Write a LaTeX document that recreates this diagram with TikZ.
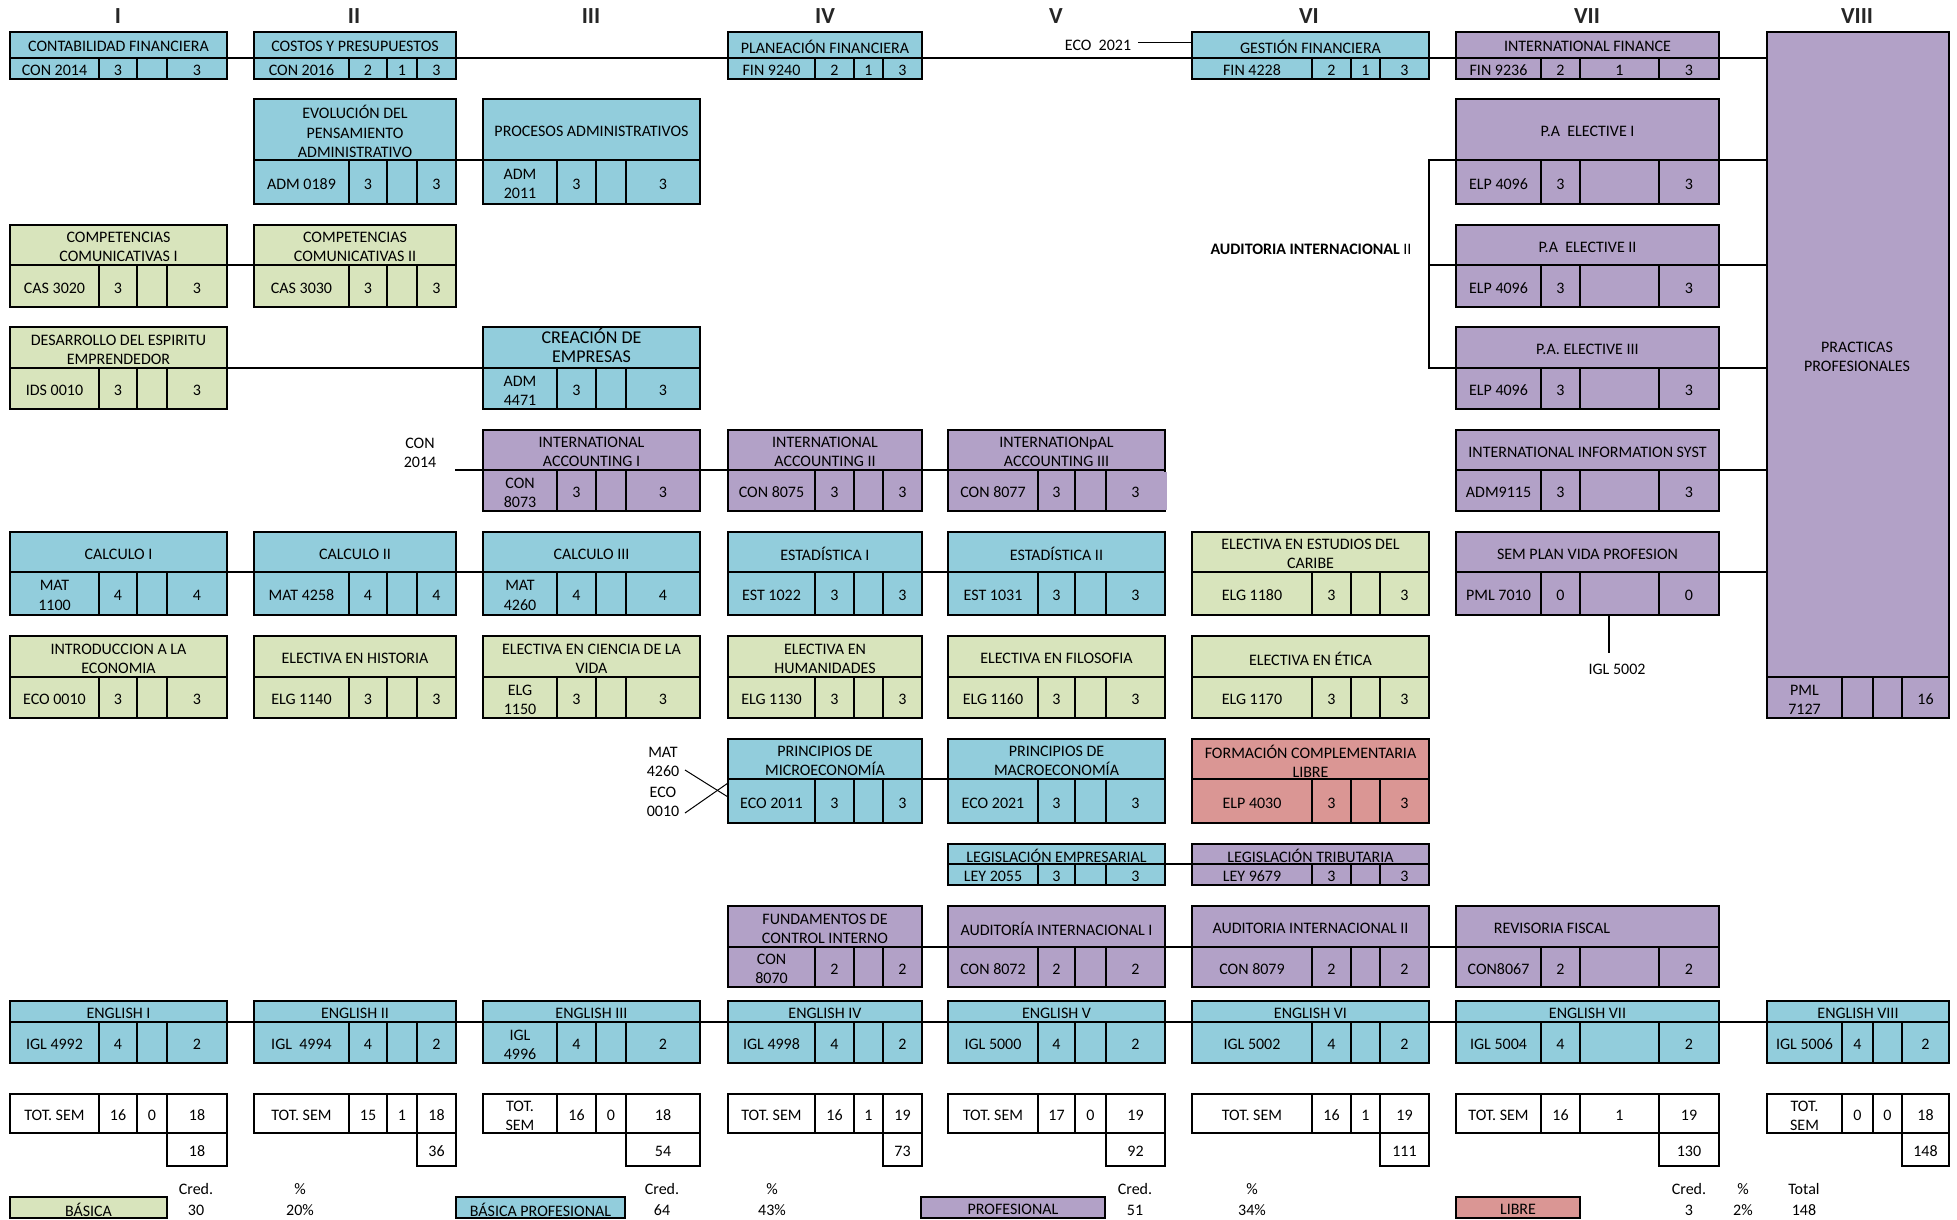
\documentclass[tikz,border=0pt]{standalone}
\usepackage{fontspec}
\setmainfont{Carlito}
\usetikzlibrary{calc}
\definecolor{cblue}{HTML}{92CDDC}
\definecolor{cgreen}{HTML}{D8E4BC}
\definecolor{cpurple}{HTML}{B2A1C7}
\definecolor{cred}{HTML}{DA9694}
\newcommand\fs{\fontsize{16}{19.2}\selectfont}
\newcommand\fsb{\fontsize{18}{19}\selectfont}
\newcommand\setcol[5]{\def\kxa{#1}\def\kxb{#2}\def\kca{#3}\def\kcb{#4}\def\kcc{#5}}
\newcommand\setrow[3]{\def\kya{#1}\def\kyb{#2}\def\kyc{#3}}
\newcommand\colA{\setcol{10}{227}{99}{137}{167}}
\newcommand\colB{\setcol{254}{456}{349}{387}{417}}
\newcommand\colC{\setcol{483}{700}{557}{596}{626}}
\newcommand\colD{\setcol{728}{922}{815}{854}{883}}
\newcommand\colE{\setcol{948}{1165}{1038}{1075}{1106}}
\newcommand\colF{\setcol{1192}{1429}{1312}{1351}{1380}}
\newcommand\colG{\setcol{1456}{1719}{1541}{1580}{1659}}
\newcommand\colH{\setcol{1767}{1949}{1842}{1873}{1902}}
\newcommand\rowA{\setrow{32}{57.7}{79}}
\newcommand\rowB{\setrow{99}{160}{204}}
\newcommand\rowC{\setrow{225}{265}{307}}
\newcommand\rowD{\setrow{327}{368}{409}}
\newcommand\rowE{\setrow{430}{470}{511}}
\newcommand\rowF{\setrow{532}{572}{615}}
\newcommand\rowG{\setrow{636}{677}{718}}
\newcommand\rowH{\setrow{739}{779}{823}}
\newcommand\rowI{\setrow{844}{864}{885}}
\newcommand\rowJ{\setrow{906}{947}{987}}
\newcommand\rowK{\setrow{1001}{1022}{1063}}
\tikzset{
  boxline/.style={draw=black, line width=2.6},
  inner/.style={draw=black, line width=2.1},
  conn/.style={draw=black, line width=2.4},
  thinln/.style={draw=black, line width=1},
  txt/.style={font=\fs, inner sep=0pt, align=center, text=black, yshift=-2pt},
  roman/.style={font=\fontsize{23}{26}\selectfont\bfseries, inner sep=0pt, text=black!85},
}
\newcommand\crs[9]{%
  #2#3%
  \draw[fill=#4, draw=none] (\kxa,\kya) rectangle (\kxb,\kyc);
  \draw[inner] (\kxa,\kyb) -- (\kxb,\kyb);
  \draw[inner] (\kca,\kyb) -- (\kca,\kyc) (\kcb,\kyb) -- (\kcb,\kyc) (\kcc,\kyb) -- (\kcc,\kyc);
  \draw[boxline] (\kxa,\kya) rectangle (\kxb,\kyc);
  \coordinate (#1-l) at (\kxa,\kyb);
  \coordinate (#1-r) at (\kxb,\kyb);
  \node[txt] (#1-t) at ({(\kxa+\kxb)/2},{(\kya+\kyb)/2}) {#5};
  \node[txt] (#1-c) at ({(\kxa+\kca)/2},{(\kyb+\kyc)/2}) {#6};
  \node[txt] (#1-a) at ({(\kca+\kcb)/2},{(\kyb+\kyc)/2}) {#7};
  \node[txt] (#1-b) at ({(\kcb+\kcc)/2},{(\kyb+\kyc)/2}) {#8};
  \node[txt] (#1-d) at ({(\kcc+\kxb)/2},{(\kyb+\kyc)/2}) {#9};
}
\newcommand\tot[7]{%
  #2%
  \draw[boxline, fill=white] (\kxa,1094) rectangle (\kxb,1133);
  \draw[boxline, fill=white] (\kcc,1133) rectangle (\kxb,1166);
  \draw[inner] (\kca,1094) -- (\kca,1133) (\kcb,1094) -- (\kcb,1133) (\kcc,1094) -- (\kcc,1133);
  \node[txt] (#1-c) at ({(\kxa+\kca)/2},1113.5) {#3};
  \node[txt] (#1-a) at ({(\kca+\kcb)/2},1113.5) {#4};
  \node[txt] (#1-b) at ({(\kcb+\kcc)/2},1113.5) {#5};
  \node[txt] (#1-d) at ({(\kcc+\kxb)/2},1113.5) {#6};
  \node[txt] (#1-s) at ({(\kcc+\kxb)/2},1149.5) {#7};
}
\newcommand\leg[5]{%
  \draw[boxline, fill=#4] (#2,1197) rectangle (#3,1218);
  \node[txt] (#1) at ({(#2+#3)/2},1207.5) {#5};
}
\begin{document}
\begin{tikzpicture}[x=1pt,y=-1pt]
\useasboundingbox[fill=white] (0,0) rectangle (1957,1219);
% semester numerals
\node[roman] (sI) at (118,16) {I};
\node[roman] (sII) at (354,16) {II};
\node[roman] (sIII) at (591,16) {III};
\node[roman] (sIV) at (825,16) {IV};
\node[roman] (sV) at (1056,16) {V};
\node[roman] (sVI) at (1309,16) {VI};
\node[roman] (sVII) at (1587,16) {VII};
\node[roman] (sVIII) at (1857,16) {VIII};
% practicas
\fill[cpurple] (1767,32) rectangle (1949,718);
\draw[inner] (1767,677) -- (1949,677) (1842,677) -- (1842,718) (1873,677) -- (1873,718) (1902,677) -- (1902,718);
\draw[boxline] (1767,32) rectangle (1949,718);
\coordinate (prac-nw) at (1767,32);
\node[txt] (prac-t) at (1857,355) {PRACTICAS\\PROFESIONALES};
\node[txt] (prac-c) at (1804.5,697.5) {PML\\7127};
\node[txt] (prac-d) at (1925.5,697.5) {16};
% courses
\crs{conta}{\colA}{\rowA}{cblue}{CONTABILIDAD FINANCIERA}{CON 2014}{3}{}{3}
\crs{costos}{\colB}{\rowA}{cblue}{COSTOS Y PRESUPUESTOS}{CON 2016}{2}{1}{3}
\crs{plan}{\colD}{\rowA}{cblue}{PLANEACIÓN FINANCIERA}{FIN 9240}{2}{1}{3}
\crs{gest}{\colF}{\rowA}{cblue}{GESTIÓN FINANCIERA}{FIN 4228}{2}{1}{3}
\crs{ifin}{\colG}{\rowA}{cpurple}{INTERNATIONAL FINANCE}{FIN 9236}{2}{1}{3}
\crs{evol}{\colB}{\rowB}{cblue}{EVOLUCIÓN DEL\\PENSAMIENTO\\ADMINISTRATIVO}{ADM 0189}{3}{}{3}
\crs{proc}{\colC}{\rowB}{cblue}{PROCESOS ADMINISTRATIVOS}{ADM\\2011}{3}{}{3}
\crs{pa1}{\colG}{\rowB}{cpurple}{P.A~~ELECTIVE I}{ELP 4096}{3}{}{3}
\crs{comp1}{\colA}{\rowC}{cgreen}{COMPETENCIAS\\COMUNICATIVAS I}{CAS 3020}{3}{}{3}
\crs{comp2}{\colB}{\rowC}{cgreen}{COMPETENCIAS\\COMUNICATIVAS II}{CAS 3030}{3}{}{3}
\crs{pa2}{\colG}{\rowC}{cpurple}{P.A~~ELECTIVE II}{ELP 4096}{3}{}{3}
\crs{desa}{\colA}{\rowD}{cgreen}{DESARROLLO DEL ESPIRITU\\EMPRENDEDOR}{IDS 0010}{3}{}{3}
\crs{crea}{\colC}{\rowD}{cblue}{}{ADM\\4471}{3}{}{3}
\node[txt, font=\fsb] (crea-tt) at (591.5,343.5) {CREACIÓN DE\\EMPRESAS};
\crs{pa3}{\colG}{\rowD}{cpurple}{P.A. ELECTIVE III}{ELP 4096}{3}{}{3}
\crs{ia1}{\colC}{\rowE}{cpurple}{INTERNATIONAL\\ACCOUNTING I}{CON\\8073}{3}{}{3}
\crs{ia2}{\colD}{\rowE}{cpurple}{INTERNATIONAL\\ACCOUNTING II}{CON 8075}{3}{}{3}
\crs{ia3}{\colE}{\rowE}{cpurple}{INTERNATIONpAL\\ACCOUNTING III}{CON 8077}{3}{}{3}
\draw[cpurple, line width=3] (1165,472) -- (1165,509.6);
\crs{info}{\colG}{\rowE}{cpurple}{INTERNATIONAL INFORMATION SYST}{ADM9115}{3}{}{3}
\crs{calc1}{\colA}{\rowF}{cblue}{CALCULO I}{MAT\\1100}{4}{}{4}
\crs{calc2}{\colB}{\rowF}{cblue}{CALCULO II}{MAT 4258}{4}{}{4}
\crs{calc3}{\colC}{\rowF}{cblue}{CALCULO III}{MAT\\4260}{4}{}{4}
\crs{est1}{\colD}{\rowF}{cblue}{ESTADÍSTICA I}{EST 1022}{3}{}{3}
\crs{est2}{\colE}{\rowF}{cblue}{ESTADÍSTICA II}{EST 1031}{3}{}{3}
\crs{cari}{\colF}{\rowF}{cgreen}{ELECTIVA EN ESTUDIOS DEL\\CARIBE}{ELG 1180}{3}{}{3}
\crs{sem}{\colG}{\rowF}{cpurple}{SEM PLAN VIDA PROFESION}{PML 7010}{0}{}{0}
\crs{intro}{\colA}{\rowG}{cgreen}{INTRODUCCION A LA\\ECONOMIA}{ECO 0010}{3}{}{3}
\crs{hist}{\colB}{\rowG}{cgreen}{ELECTIVA EN HISTORIA}{ELG 1140}{3}{}{3}
\crs{vida}{\colC}{\rowG}{cgreen}{ELECTIVA EN CIENCIA DE LA\\VIDA}{ELG\\1150}{3}{}{3}
\crs{huma}{\colD}{\rowG}{cgreen}{ELECTIVA EN\\HUMANIDADES}{ELG 1130}{3}{}{3}
\crs{filo}{\colE}{\rowG}{cgreen}{ELECTIVA EN FILOSOFIA}{ELG 1160}{3}{}{3}
\crs{etica}{\colF}{\rowG}{cgreen}{ELECTIVA EN ÉTICA}{ELG 1170}{3}{}{3}
\crs{micro}{\colD}{\rowH}{cblue}{PRINCIPIOS DE\\MICROECONOMÍA}{ECO 2011}{3}{}{3}
\crs{macro}{\colE}{\rowH}{cblue}{PRINCIPIOS DE\\MACROECONOMÍA}{ECO 2021}{3}{}{3}
\crs{libre}{\colF}{\rowH}{cred}{FORMACIÓN COMPLEMENTARIA\\LIBRE}{ELP 4030}{3}{}{3}
\crs{legE}{\colE}{\rowI}{cblue}{LEGISLACIÓN EMPRESARIAL}{LEY 2055}{3}{}{3}
\crs{legT}{\colF}{\rowI}{cpurple}{LEGISLACIÓN TRIBUTARIA}{LEY 9679}{3}{}{3}
\crs{fund}{\colD}{\rowJ}{cpurple}{FUNDAMENTOS DE\\CONTROL INTERNO}{CON\\8070}{2}{}{2}
\crs{aud1}{\colE}{\rowJ}{cpurple}{AUDITORÍA INTERNACIONAL I}{CON 8072}{2}{}{2}
\crs{aud2}{\colF}{\rowJ}{cpurple}{AUDITORIA INTERNACIONAL II}{CON 8079}{2}{}{2}
\crs{rev}{\colG}{\rowJ}{cpurple}{}{CON8067}{2}{}{2}
\node[txt] (rev-tt) at (1552,926.5) {REVISORIA FISCAL};
\crs{eng1}{\colA}{\rowK}{cblue}{ENGLISH I}{IGL 4992}{4}{}{2}
\crs{eng2}{\colB}{\rowK}{cblue}{ENGLISH II}{IGL~~4994}{4}{}{2}
\crs{eng3}{\colC}{\rowK}{cblue}{ENGLISH III}{IGL\\4996}{4}{}{2}
\crs{eng4}{\colD}{\rowK}{cblue}{ENGLISH IV}{IGL 4998}{4}{}{2}
\crs{eng5}{\colE}{\rowK}{cblue}{ENGLISH V}{IGL 5000}{4}{}{2}
\crs{eng6}{\colF}{\rowK}{cblue}{ENGLISH VI}{IGL 5002}{4}{}{2}
\crs{eng7}{\colG}{\rowK}{cblue}{ENGLISH VII}{IGL 5004}{4}{}{2}
\crs{eng8}{\colH}{\rowK}{cblue}{ENGLISH VIII}{IGL 5006}{4}{}{2}
% totals
\tot{t1}{\colA}{TOT. SEM}{16}{0}{18}{18}
\tot{t2}{\colB}{TOT. SEM}{15}{1}{18}{36}
\tot{t3}{\colC}{TOT.\\SEM}{16}{0}{18}{54}
\tot{t4}{\colD}{TOT. SEM}{16}{1}{19}{73}
\tot{t5}{\colE}{TOT. SEM}{17}{0}{19}{92}
\tot{t6}{\colF}{TOT. SEM}{16}{1}{19}{111}
\tot{t7}{\colG}{TOT. SEM}{16}{1}{19}{130}
\tot{t8}{\colH}{TOT.\\SEM}{0}{0}{18}{148}
% connectors
\draw[conn] (conta-r) -- (costos-l);
\draw[conn] (costos-r) -- (plan-l);
\draw[conn] (plan-r) -- (gest-l);
\draw[conn] (gest-r) -- (ifin-l);
\draw[conn] (ifin-r) -- (ifin-r -| prac-nw);
\draw[conn] (evol-r) -- (proc-l);
\draw[conn] (pa1-r) -- (pa1-r -| prac-nw);
\draw[conn] (comp1-r) -- (comp2-l);
\draw[conn] (pa2-r) -- (pa2-r -| prac-nw);
\draw[conn] (desa-r) -- (crea-l);
\draw[conn] (pa3-r) -- (pa3-r -| prac-nw);
\coordinate (brk) at (1429,160);
\draw[conn] (pa1-l) -- (pa1-l -| brk) |- (pa3-l);
\draw[conn] (pa2-l) -- (pa2-l -| brk);
\draw[conn] (ia1-r) -- (ia2-l);
\draw[conn] (ia2-r) -- (ia3-l);
\draw[conn] (info-r) -- (info-r -| prac-nw);
\draw[conn] (calc1-r) -- (calc2-l);
\draw[conn] (calc2-r) -- (calc3-l);
\draw[conn] (est1-r) -- (est2-l);
\draw[conn] (sem-r) -- (sem-r -| prac-nw);
\draw[conn] (micro-r) -- (macro-l);
\draw[conn] (legE-r) -- (legT-l);
\draw[conn] (fund-r) -- (aud1-l);
\draw[conn] (aud1-r) -- (aud2-l);
\draw[conn] (aud2-r) -- (rev-l);
\draw[conn] (eng1-r) -- (eng2-l);
\draw[conn] (eng2-r) -- (eng3-l);
\draw[conn] (eng3-r) -- (eng4-l);
\draw[conn] (eng4-r) -- (eng5-l);
\draw[conn] (eng5-r) -- (eng6-l);
\draw[conn] (eng6-r) -- (eng7-l);
\draw[conn] (eng7-r) -- (eng8-l);
% side labels
\node[txt] (eco21) at (1098,43) {ECO~~2021};
\coordinate (eco21e) at (1138,42);
\draw[thinln] (eco21e) -- (eco21e -| gest-l);
\node[txt] (con14) at (420,451) {CON\\2014};
\coordinate (con14e) at (455,470);
\draw[conn] (con14e) -- (ia1-l);
\node[txt] (mat60) at (663,760) {MAT\\4260};
\node[txt] (eco10) at (663,800) {ECO\\0010};
\coordinate (xa0) at (685,770);
\coordinate (xa1) at (728,797);
\coordinate (xb0) at (685,813);
\coordinate (xb1) at (728,783);
\draw[thinln] (xa0) -- (xa1);
\draw[thinln] (xb0) -- (xb1);
\node[txt] (audlbl) at (1311,247) {\bfseries AUDITORIA INTERNACIONAL\mdseries\ II};
\coordinate (igl0) at (1609,615);
\coordinate (igl1) at (1609,653);
\draw[line width=1.6] (igl0) -- (igl1);
\node[txt] (igllbl) at (1617,667) {IGL 5002};
% legend
\leg{lbas}{10}{167}{cgreen}{BÁSICA}
\leg{lbp}{456}{625}{cblue}{BÁSICA PROFESIONAL}
\leg{lpro}{921}{1105}{cpurple}{PROFESIONAL}
\leg{llib}{1456}{1580}{cred}{LIBRE}
\node[txt] (h1) at (196,1187) {Cred.};
\node[txt] (v1) at (196,1208) {30};
\node[txt] (h2) at (300,1187) {\%};
\node[txt] (v2) at (300,1208) {20\%};
\node[txt] (h3) at (662,1187) {Cred.};
\node[txt] (v3) at (662,1208) {64};
\node[txt] (h4) at (772,1187) {\%};
\node[txt] (v4) at (772,1208) {43\%};
\node[txt] (h5) at (1135,1187) {Cred.};
\node[txt] (v5) at (1135,1208) {51};
\node[txt] (h6) at (1252,1187) {\%};
\node[txt] (v6) at (1252,1208) {34\%};
\node[txt] (h7) at (1689,1187) {Cred.};
\node[txt] (v7) at (1689,1208) {3};
\node[txt] (h8) at (1743,1187) {\%};
\node[txt] (v8) at (1743,1208) {2\%};
\node[txt] (h9) at (1804,1187) {Total};
\node[txt] (v9) at (1804,1208) {148};
\end{tikzpicture}
\end{document}
